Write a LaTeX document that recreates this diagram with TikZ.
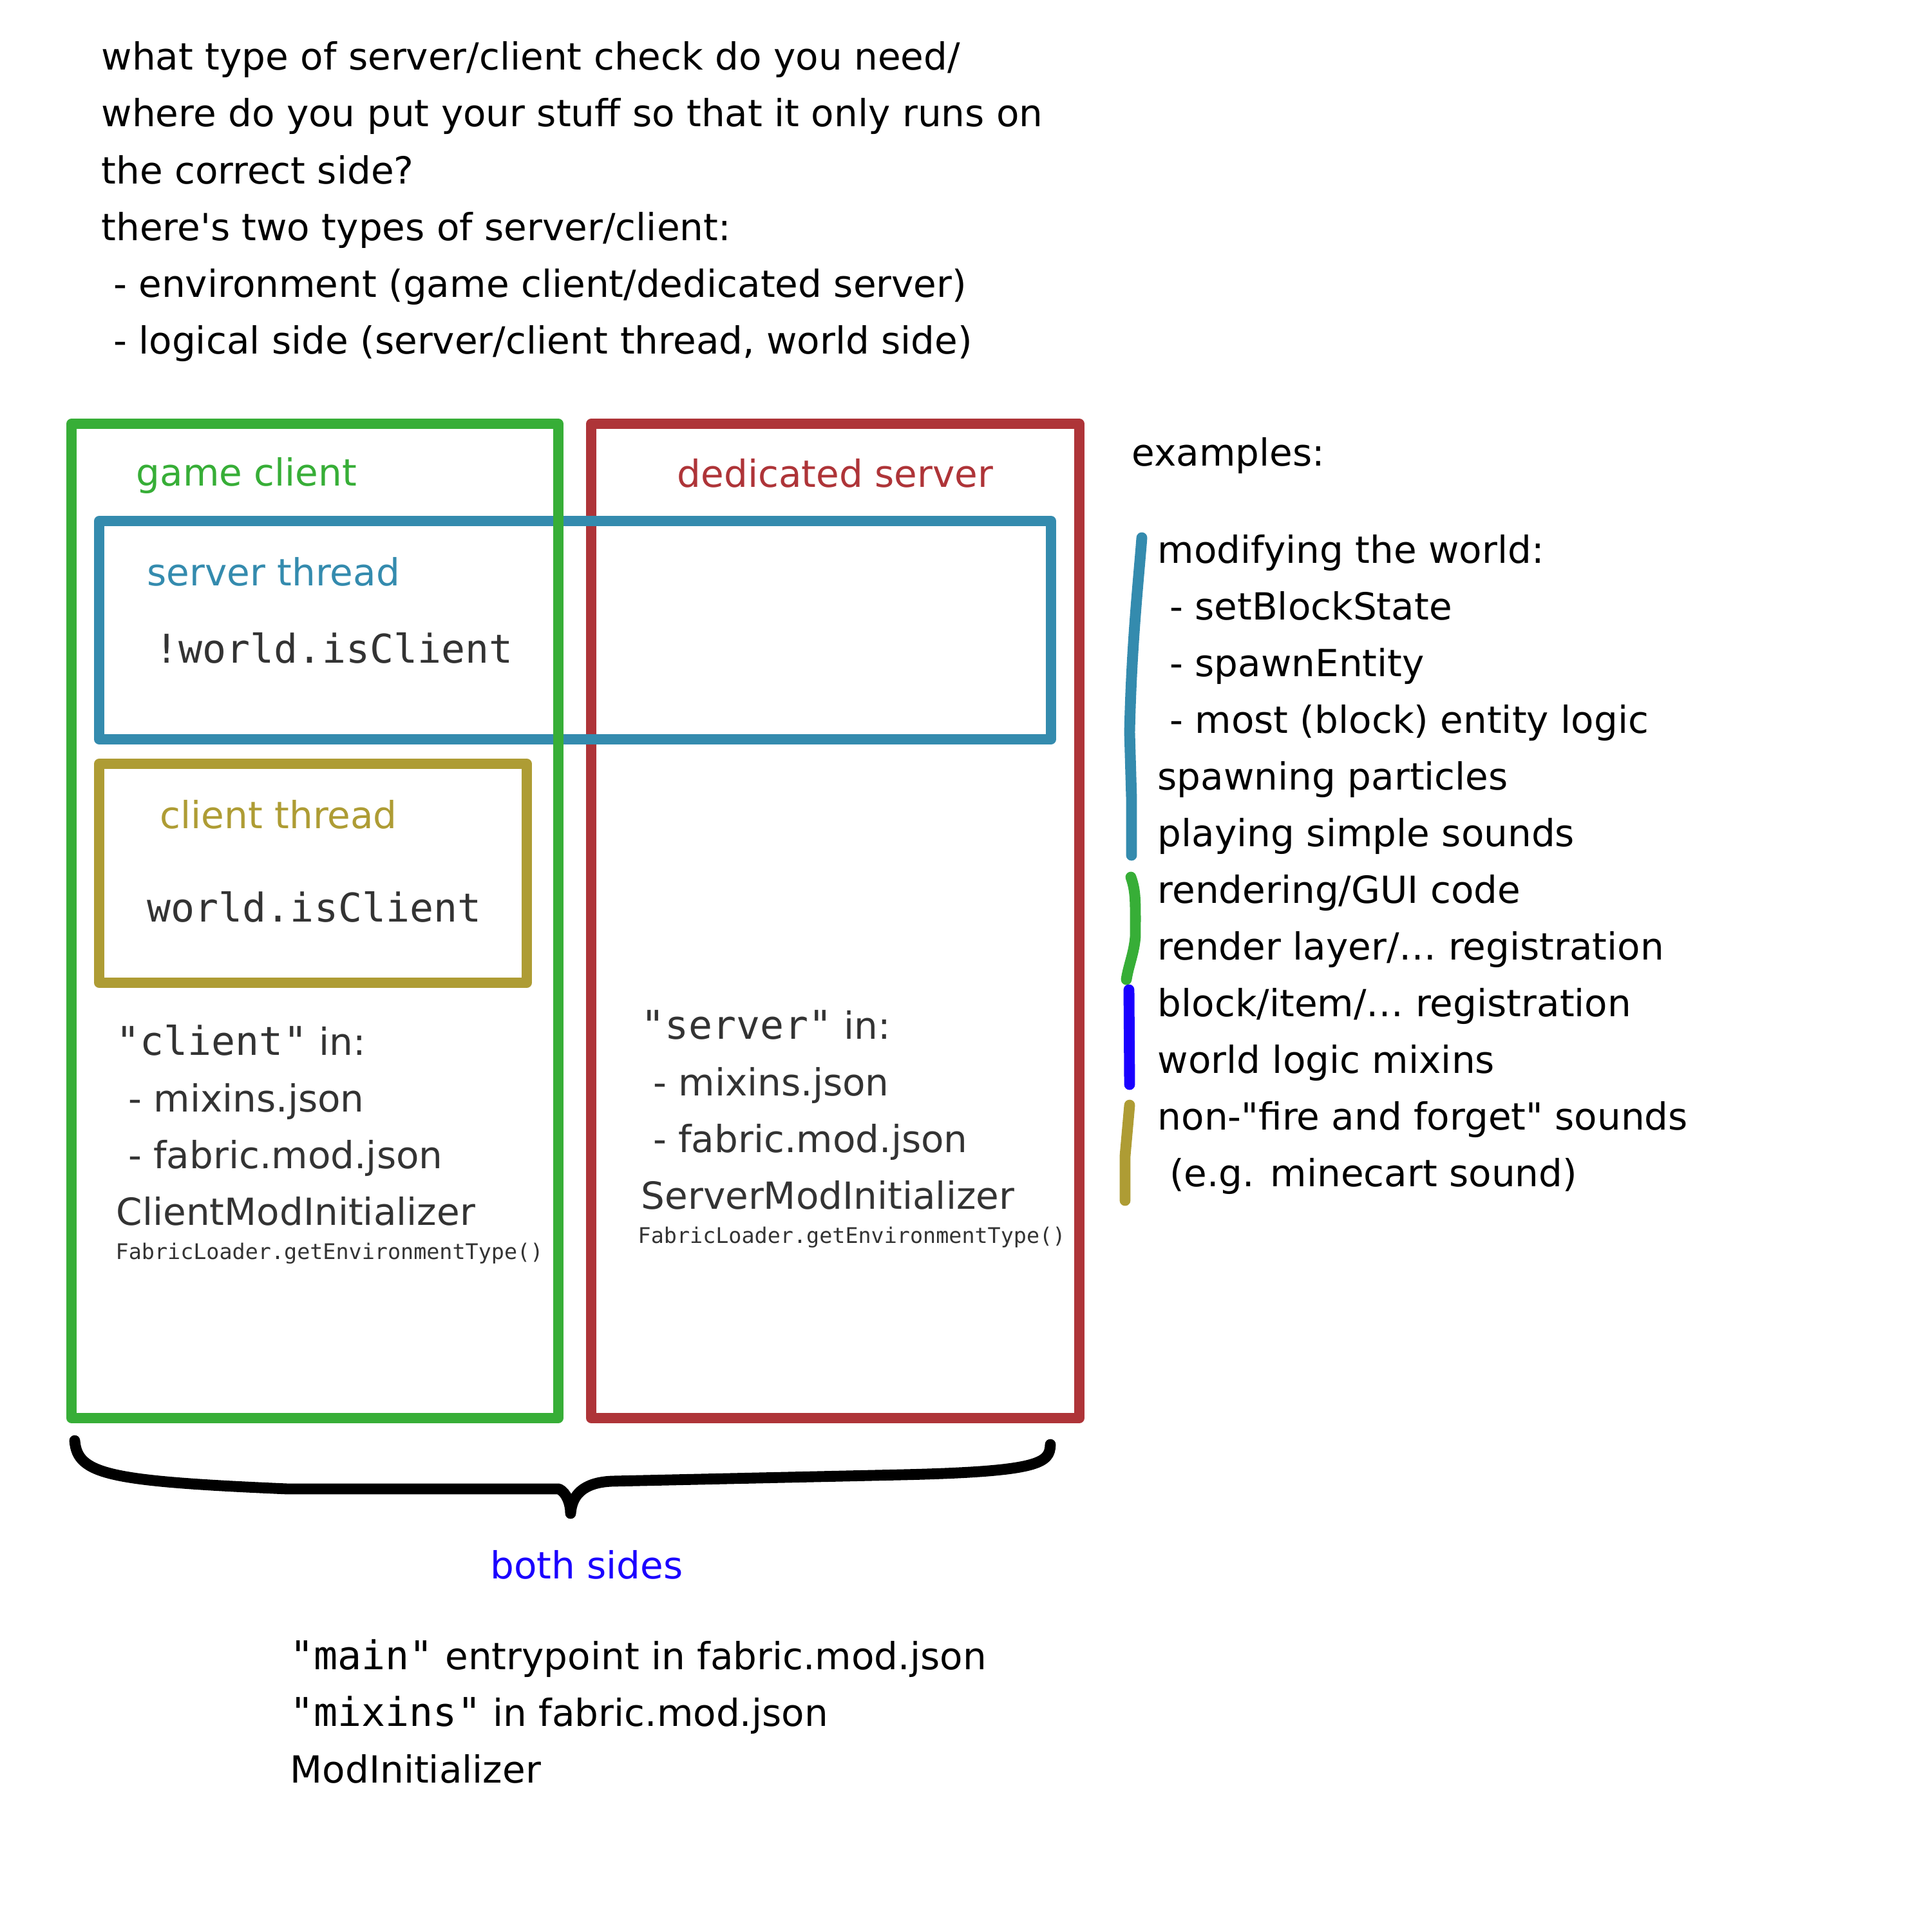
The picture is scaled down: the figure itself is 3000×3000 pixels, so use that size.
\documentclass[tikz,border=0pt]{standalone}
\usepackage{fontspec}
\usepackage{xcolor}
\usepackage{tikz}
\setmainfont{DejaVu Sans}
\newfontfamily\codefont{DejaVu Sans Mono}
\definecolor{clientgreen}{RGB}{55,174,55}
\definecolor{serverred}{RGB}{174,52,56}
\definecolor{threadblue}{RGB}{52,139,174}
\definecolor{threadolive}{RGB}{174,156,52}
\definecolor{bothblue}{RGB}{26,0,255}
\definecolor{codegray}{RGB}{51,51,51}
\newcommand{\code}[1]{{\codefont\fontsize{17.5}{25}\selectfont #1}}
\newcommand{\smallcode}[1]{{\codefont\fontsize{9.5}{12}\selectfont #1}}
\tikzstyle{sidebox} = [line width=4.5pt,line join=round]
\tikzstyle{txt} = [anchor=base west,inner sep=0pt,font=\fontsize{16.5}{25}\selectfont]
\tikzstyle{marker} = [line width=4.8pt,line cap=round,line join=round]

\begin{document}
\begin{tikzpicture}[x=0.01cm,y=-0.01cm]
    \useasboundingbox (0,0) rectangle (3000,3000);
    \foreach \t [count=\i] in {what type of server/client check do you need/,
            where do you put your stuff so that it only runs on,
            the correct side?,
            there\textquotesingle s two types of server/client:,
            \ - environment (game client/dedicated server),
            {\ - logical side (server/client thread, world side)}}
        \node[txt] (question\i) at (157,21+88*\i) {\t};

    \draw[sidebox,serverred] (918,658) rectangle (1676,2202);
    \draw[sidebox,threadblue] (154,809) rectangle (1632,1148);
    \draw[sidebox,clientgreen] (111,658) rectangle (867,2202);
    \draw[sidebox,threadolive] (154,1186) rectangle (818,1526);

    \node[txt,clientgreen] (gameclient) at (211,754) {game client};
    \node[txt,anchor=base,serverred] (dedicated) at (1297,756) {dedicated server};
    \node[txt,threadblue] (serverthread) at (228,909) {server thread};
    \node[txt,codegray] (notisclient) at (240,1029) {\code{!world.isClient}};
    \node[txt,threadolive] (clientthread) at (248,1286) {client thread};
    \node[txt,codegray] (isclient) at (228,1431) {\code{world.isClient}};

    \foreach \t [count=\i] in {\code{"client"} in:,\ - mixins.json,\ - fabric.mod.json,ClientModInitializer}
        \node[txt,codegray] (cliententry\i) at (180,1550+88*\i) {\t};
    \node[txt,codegray] (clientenv) at (179,1955) {\smallcode{FabricLoader.getEnvironmentType()}};

    \foreach \t [count=\i] in {\code{"server"} in:,\ - mixins.json,\ - fabric.mod.json,ServerModInitializer}
        \node[txt,codegray] (serverentry\i) at (995,1525+88*\i) {\t};
    \node[txt,codegray] (serverenv) at (990,1930) {\smallcode{FabricLoader.getEnvironmentType()}};

    \node[txt] (examples) at (1757,723) {examples:};
    \foreach \t [count=\i] in {modifying the world:,\ - setBlockState,\ - spawnEntity,
            \ - most (block) entity logic,spawning particles,playing simple sounds,
            rendering/GUI code,{render layer/\ldots\ registration},{block/item/\ldots\ registration},
            world logic mixins,non-\textquotedbl fire and forget\textquotedbl\ sounds,\ (e.g. minecart sound)}
        \node[txt] (example\i) at (1797,786+88*\i) {\t};

    \draw[marker,threadblue] (1773,835) .. controls (1768,900) and (1757,1000) .. (1754,1137) -- (1757,1240) -- (1757,1328);
    \draw[marker,clientgreen] (1756,1362) .. controls (1764,1385) and (1763,1400) .. (1763,1454) .. controls (1761,1480) and (1752,1500) .. (1749,1521);
    \draw[marker,bothblue] (1753,1537) -- (1754,1684);
    \draw[marker,threadolive] (1754,1716) -- (1747,1795) -- (1747,1864);

    \draw[line width=4.8pt,line cap=round,line join=round] (116,2237) .. controls (120,2290) and (170,2300) .. (447,2312)
        -- (868,2312) .. controls (880,2318) and (886,2335) .. (886,2350)
        .. controls (888,2322) and (905,2302) .. (950,2300) -- (1400,2290)
        .. controls (1615,2285) and (1630,2272) .. (1631,2243);

    \node[txt,anchor=base,bothblue] (bothsides) at (911,2451) {both sides};
    \node[txt] (mainentry) at (450,2592) {\code{"main"} entrypoint in fabric.mod.json};
    \node[txt] (mixinentry) at (450,2680) {\code{"mixins"} in fabric.mod.json};
    \node[txt] (modinit) at (450,2768) {ModInitializer};
\end{tikzpicture}
\end{document}
